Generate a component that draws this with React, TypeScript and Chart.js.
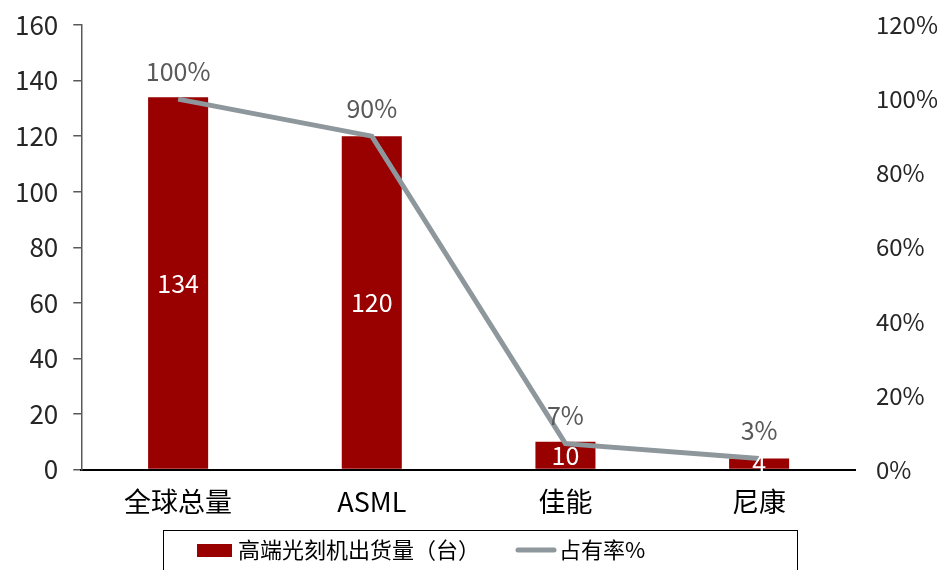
import React, { useEffect, useRef } from "react";
import { Chart, registerables } from "chart.js";

Chart.register(...registerables);

const categories = ["全球总量", "ASML", "佳能", "尼康"];
const shipments = [134, 120, 10, 4];
const shareRate = [100, 90, 7, 3];
const leftTicks = [0, 20, 40, 60, 80, 100, 120, 140, 160];
const rightTicks = [0, 20, 40, 60, 80, 100, 120];
const barLabel = "高端光刻机出货量（台）";
const lineLabel = "占有率%";

const FONT = '"Noto Sans CJK SC", sans-serif';
const BAR_COLOR = "#990000";
const LINE_COLOR = "#8E979C";

const labelsPlugin = {
  id: "valueLabels",
  afterDatasetsDraw(chart: any) {
    const ctx = chart.ctx;
    ctx.save();
    ctx.font = `25px ${FONT}`;
    ctx.textAlign = "center";
    ctx.textBaseline = "middle";
    chart.data.datasets.forEach((ds: any, i: number) => {
      const meta = chart.getDatasetMeta(i);
      meta.data.forEach((el: any, j: number) => {
        if (ds.type === "bar") {
          ctx.fillStyle = "#FFFFFF";
          ctx.fillText(String(ds.data[j]), el.x, (el.y + el.base) / 2);
        } else {
          ctx.fillStyle = "#595959";
          ctx.fillText(ds.data[j] + "%", el.x, el.y - 28);
        }
      });
    });
    ctx.restore();
  },
};

const legendPlugin = {
  id: "boxLegend",
  afterDraw(chart: any) {
    const ctx = chart.ctx;
    const ds = chart.data.datasets;
    ctx.save();
    ctx.strokeStyle = "#000000";
    ctx.lineWidth = 1;
    ctx.strokeRect(163.5, 530.5, 634, 60);
    const cy = 550;
    ctx.font = `22px ${FONT}`;
    ctx.textBaseline = "middle";
    ctx.textAlign = "left";
    ctx.fillStyle = ds[0].backgroundColor;
    ctx.fillRect(197, 544, 35, 13);
    ctx.fillStyle = "#000000";
    ctx.fillText(ds[0].label, 238, cy);
    ctx.strokeStyle = ds[1].borderColor;
    ctx.lineWidth = 5;
    ctx.lineCap = "round";
    ctx.beginPath();
    ctx.moveTo(518, cy);
    ctx.lineTo(554, cy);
    ctx.stroke();
    ctx.fillStyle = "#000000";
    ctx.fillText(ds[1].label, 559, cy);
    ctx.restore();
  },
};

export default function App() {
  const ref = useRef<HTMLCanvasElement>(null);
  useEffect(() => {
    if (!ref.current) return;
    const chart = new Chart(ref.current, {
      data: {
        labels: categories,
        datasets: [
          {
            type: "bar",
            label: barLabel,
            data: shipments,
            backgroundColor: BAR_COLOR,
            yAxisID: "y",
            barPercentage: 0.31,
            categoryPercentage: 1,
            order: 1,
          },
          {
            type: "line",
            label: lineLabel,
            data: shareRate,
            borderColor: LINE_COLOR,
            backgroundColor: LINE_COLOR,
            borderWidth: 5,
            pointRadius: 0,
            tension: 0,
            yAxisID: "y1",
            order: 0,
          },
        ],
      } as any,
      options: {
        responsive: false,
        animation: false,
        layout: { padding: { top: 25, left: 0, right: -11, bottom: 44 } },
        plugins: {
          legend: { display: false },
          tooltip: { enabled: false },
        },
        scales: {
          x: {
            grid: { display: false },
            border: { display: true, color: "#000000", width: 2 },
            ticks: { font: { size: 27, family: FONT }, color: "#000000", padding: 8 },
          },
          y: {
            position: "left",
            min: leftTicks[0],
            max: leftTicks[leftTicks.length - 1],
            afterBuildTicks: (axis: any) => {
              axis.ticks = leftTicks.map((v) => ({ value: v }));
            },
            grid: {
              display: true,
              drawOnChartArea: false,
              drawTicks: true,
              tickLength: 8,
              color: "#595959",
              lineWidth: 1.5,
            },
            border: { display: true, color: "#595959", width: 1.5 },
            ticks: { font: { size: 26, family: FONT, lineHeight: 0.5 }, color: "#262626", padding: 15 },
          },
          y1: {
            position: "right",
            min: rightTicks[0],
            max: rightTicks[rightTicks.length - 1],
            afterBuildTicks: (axis: any) => {
              axis.ticks = rightTicks.map((v) => ({ value: v }));
            },
            grid: { display: false, drawTicks: true, tickLength: 10 },
            border: { display: false },
            ticks: {
              font: { size: 24, family: FONT, lineHeight: 0.5 },
              color: "#262626",
              padding: 10,
              callback: (v: any) => v + "%",
            },
          },
        },
      } as any,
      plugins: [labelsPlugin, legendPlugin],
    });
    return () => chart.destroy();
  }, []);
  return (
    <div style={{ position: "fixed", left: 0, top: 0, width: 937, height: 570, background: "#fff" }}>
      <canvas ref={ref} width={937} height={570} />
    </div>
  );
}
